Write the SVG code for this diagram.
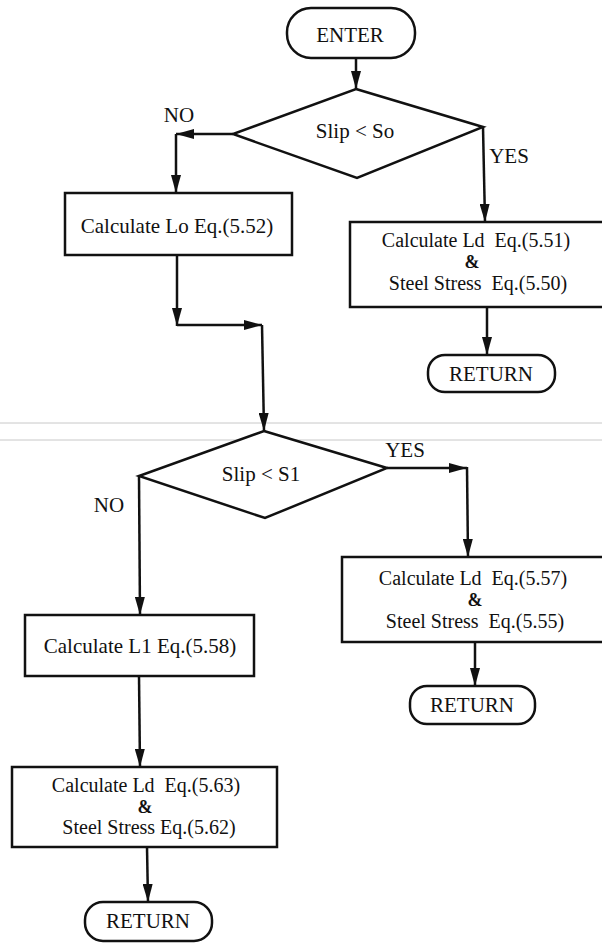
<svg xmlns="http://www.w3.org/2000/svg" width="602" height="944" viewBox="0 0 602 944">
<style>
.shape{fill:#fff;stroke:#111;stroke-width:2.5}
.con{fill:none;stroke:#111;stroke-width:2.5}
text{font-family:"Liberation Serif","Times New Roman",serif;font-size:21px;fill:#111;text-anchor:middle;white-space:pre}
.ml{font-size:20px}
.amp{font-weight:bold;font-size:18px}
.scan{stroke:#c8c8c8;stroke-width:1}
</style>
<defs>
<marker id="ah" viewBox="0 0 18 10" refX="18" refY="5" markerWidth="18" markerHeight="10" markerUnits="userSpaceOnUse" orient="auto">
<path d="M0,0 L18,5 L0,10 z" fill="#111"/>
</marker>
</defs>
<rect width="602" height="944" fill="#fff"/>
<g id="scan-lines">
<line class="scan" x1="0" y1="423" x2="602" y2="423"/>
<line class="scan" x1="0" y1="440" x2="602" y2="440"/>
</g>
<g id="connectors">
<path class="con" d="M356,58 V89" marker-end="url(#ah)"/>
<path class="con" d="M233,134 H176" marker-end="url(#ah)"/>
<path class="con" d="M176,134 V193" marker-end="url(#ah)"/>
<path class="con" d="M483,127 L485,222" marker-end="url(#ah)"/>
<path class="con" d="M177,255 V326" marker-end="url(#ah)"/>
<path class="con" d="M177,325 H262" marker-end="url(#ah)"/>
<path class="con" d="M262,325 L264,431" marker-end="url(#ah)"/>
<path class="con" d="M487,307 V355" marker-end="url(#ah)"/>
<path class="con" d="M387,468 H467" marker-end="url(#ah)"/>
<path class="con" d="M467,467 L468,557" marker-end="url(#ah)"/>
<path class="con" d="M139,476 L140,615" marker-end="url(#ah)"/>
<path class="con" d="M475,642 V686" marker-end="url(#ah)"/>
<path class="con" d="M139,676 L140,767" marker-end="url(#ah)"/>
<path class="con" d="M147,847 L148,902" marker-end="url(#ah)"/>
</g>
<g id="enter">
<rect class="shape" x="287" y="8" width="128" height="50" rx="24"/>
<text x="350" y="42">ENTER</text>
</g>
<g id="decision1">
<polygon class="shape" points="356,89 483,127 357,178 233,134"/>
<text x="355" y="138">Slip &lt; So</text>
</g>
<g id="label-no1"><text x="179" y="122">NO</text></g>
<g id="label-yes1"><text x="509" y="163">YES</text></g>
<g id="calc-lo">
<rect class="shape" x="65" y="193" width="227" height="62"/>
<text x="177" y="233">Calculate Lo Eq.(5.52)</text>
</g>
<g id="calc-ld-1">
<rect class="shape" x="350" y="222" width="262" height="85"/>
<text class="ml" x="476" y="247">Calculate Ld  Eq.(5.51)</text>
<text class="amp" x="472" y="268">&amp;</text>
<text class="ml" x="478" y="290">Steel Stress  Eq.(5.50)</text>
</g>
<g id="return1">
<rect class="shape" x="428" y="355" width="127" height="37" rx="17"/>
<text x="491" y="381">RETURN</text>
</g>
<g id="decision2">
<polygon class="shape" points="264,431 387,468 265,518 139,476"/>
<text x="261" y="481">Slip &lt; S1</text>
</g>
<g id="label-yes2"><text x="405" y="457">YES</text></g>
<g id="label-no2"><text x="109" y="512">NO</text></g>
<g id="calc-ld-2">
<rect class="shape" x="342" y="557" width="270" height="85"/>
<text class="ml" x="473" y="585">Calculate Ld  Eq.(5.57)</text>
<text class="amp" x="475" y="606">&amp;</text>
<text class="ml" x="475" y="628">Steel Stress  Eq.(5.55)</text>
</g>
<g id="return2">
<rect class="shape" x="410" y="686" width="125" height="38" rx="17"/>
<text x="472" y="712">RETURN</text>
</g>
<g id="calc-l1">
<rect class="shape" x="25" y="615" width="229" height="61"/>
<text x="140" y="653">Calculate L1 Eq.(5.58)</text>
</g>
<g id="calc-ld-3">
<rect class="shape" x="12" y="767" width="265" height="80"/>
<text class="ml" x="146" y="792">Calculate Ld  Eq.(5.63)</text>
<text class="amp" x="145" y="813">&amp;</text>
<text class="ml" x="149" y="834">Steel Stress Eq.(5.62)</text>
</g>
<g id="return3">
<rect class="shape" x="85" y="902" width="127" height="39" rx="18"/>
<text x="148" y="928">RETURN</text>
</g>
</svg>
